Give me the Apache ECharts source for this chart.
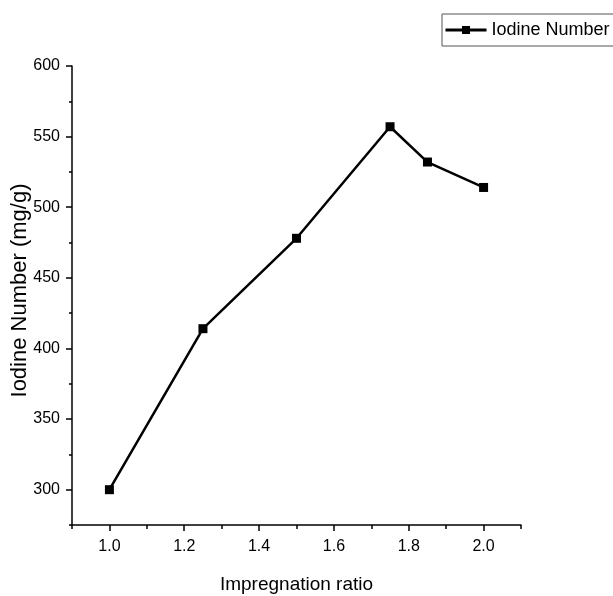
<!DOCTYPE html>
<html>
<head>
<meta charset="utf-8">
<script src="https://cdn.jsdelivr.net/npm/echarts@6/dist/echarts.min.js"></script>
<style>
  html, body { margin: 0; padding: 0; background: #fff; }
  #chart { width: 613px; height: 596px; }
</style>
</head>
<body>
<div id="chart"></div>
<script>
// impregnation ratio vs iodine number
var ratios = [1.0, 1.25, 1.5, 1.75, 1.85, 2.0]
var iodine = [300, 414, 478, 557, 532, 514]
var xTicks = [1.0, 1.2, 1.4, 1.6, 1.8, 2.0]
var yTicks = [300, 350, 400, 450, 500, 550, 600]

var font = "'Liberation Sans', Arial, sans-serif"
var axisColor = '#000'

var chart = echarts.init(document.getElementById('chart'))

chart.setOption({
  animation: false,
  backgroundColor: '#fff',
  grid: {
    left: 72,
    right: 92,
    top: 66,
    bottom: 71,
    outerBoundsMode: 'none'
  },
  legend: {
    left: 442,
    top: 14,
    padding: [7, 8, 7, 2],
    borderColor: '#555',
    borderWidth: 1,
    itemWidth: 41,
    itemHeight: 10,
    lineStyle: { width: 3 },
    textStyle: {
      fontFamily: font,
      fontSize: 18,
      color: '#000'
    },
    data: ['Iodine Number']
  },
  xAxis: [{
    type: 'value',
    min: 0.9,
    max: 2.1,
    name: 'Impregnation ratio',
    nameLocation: 'middle',
    nameGap: 50,
    nameTextStyle: { fontFamily: font, fontSize: 19, color: '#000' },
    splitLine: { show: false },
    axisLine: { lineStyle: { color: axisColor, width: 1.5 } },
    axisTick: { customValues: xTicks, length: 6, lineStyle: { color: axisColor, width: 1.5 } },
    axisLabel: {
      customValues: xTicks,
      margin: 14,
      fontFamily: font,
      fontSize: 16,
      color: '#000',
      formatter: function (v) { return v.toFixed(1) }
    }
  }, {
    // minor ticks
    type: 'value',
    position: 'bottom',
    min: 0.9,
    max: 2.1,
    interval: 0.1,
    splitLine: { show: false },
    axisLine: { show: false },
    axisTick: { length: 4, lineStyle: { color: axisColor, width: 1.5 } },
    axisLabel: { show: false }
  }],
  yAxis: [{
    type: 'value',
    min: 275,
    max: 600,
    name: 'Iodine Number (mg/g)',
    nameLocation: 'middle',
    nameGap: 41,
    nameMoveOverlap: false,
    nameTextStyle: { fontFamily: font, fontSize: 22, color: '#000', padding: [0, 0, 0, 10] },
    splitLine: { show: false },
    axisLine: { show: true, lineStyle: { color: axisColor, width: 1.5 } },
    axisTick: { show: true, customValues: yTicks, length: 6, lineStyle: { color: axisColor, width: 1.5 } },
    axisLabel: {
      customValues: yTicks,
      margin: 12,
      fontFamily: font,
      fontSize: 16,
      color: '#000'
    }
  }, {
    // minor ticks
    type: 'value',
    position: 'left',
    min: 275,
    max: 600,
    interval: 25,
    splitLine: { show: false },
    axisLine: { show: false },
    axisTick: { show: true, length: 3, lineStyle: { color: axisColor, width: 1.5 } },
    axisLabel: { show: false }
  }],
  series: [{
    name: 'Iodine Number',
    type: 'line',
    xAxisIndex: 0,
    yAxisIndex: 0,
    data: ratios.map(function (x, i) { return [x, iodine[i]] }),
    symbol: 'rect',
    symbolSize: 9,
    lineStyle: { color: '#000', width: 2.5 },
    itemStyle: { color: '#000' }
  }]
})
</script>
</body>
</html>
